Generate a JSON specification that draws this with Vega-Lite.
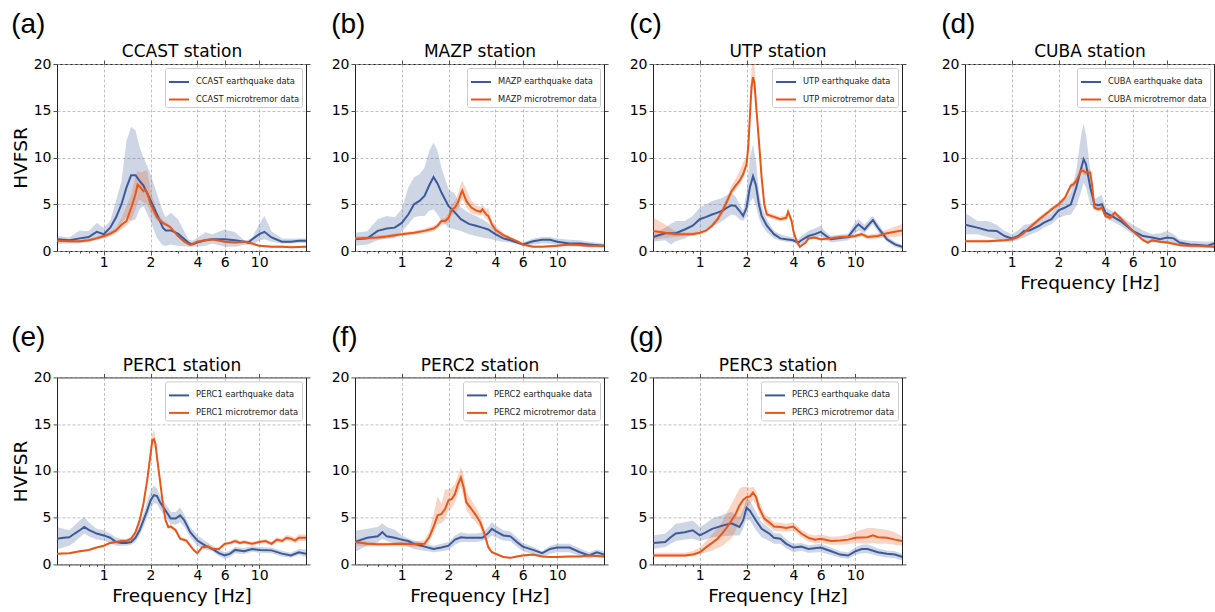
{
"$schema": "https://vega.github.io/schema/vega-lite/v6.json",
"background": "white",
"padding": {"left": 10, "top": 10, "right": 0, "bottom": 0},
"config": {
  "font": "DejaVu Sans",
  "view": {"stroke": "#222", "strokeWidth": 1},
  "axis": {"labelFont": "DejaVu Sans", "labelFontSize": 14, "labelColor": "#000", "tickColor": "#222", "tickSize": 4, "tickWidth": 0.8, "domain": false, "gridColor": "#b0b0b0", "gridDash": [3, 2], "gridWidth": 0.8, "titleFont": "DejaVu Sans", "titleFontSize": 18.5, "titleFontWeight": "normal", "titleColor": "#000", "labelPadding": 2, "labelFlush": false, "labelOverlap": false},
  "axisBottom": {"labelPadding": 0},
  "title": {"font": "Liberation Sans", "fontSize": 28, "fontWeight": "normal", "anchor": "start", "frame": "bounds", "color": "#000", "offset": 4},
  "legend": {"orient": "top-right", "offset": 4, "padding": 3, "strokeColor": "#cccccc", "fillColor": "#ffffff", "cornerRadius": 2, "labelFont": "DejaVu Sans", "labelFontSize": 8.3, "labelColor": "#222", "symbolType": "stroke", "symbolStrokeWidth": 2, "symbolSize": 400, "rowPadding": 2.5, "labelOffset": 6}
},
"datasets": {"d": [
{"p":"a","t":"e","f":0.5,"m":1.25,"lo":0.75,"hi":1.6},
{"p":"a","t":"e","f":0.6,"m":1.15,"lo":0.8,"hi":1.45},
{"p":"a","t":"e","f":0.7,"m":1.35,"lo":0.8,"hi":2.2},
{"p":"a","t":"e","f":0.8,"m":1.5,"lo":1.0,"hi":2.1},
{"p":"a","t":"e","f":0.9,"m":2.05,"lo":1.25,"hi":3.0},
{"p":"a","t":"e","f":1.0,"m":1.8,"lo":1.35,"hi":2.5},
{"p":"a","t":"e","f":1.1,"m":2.5,"lo":1.6,"hi":3.2},
{"p":"a","t":"e","f":1.2,"m":3.6,"lo":2.1,"hi":5.4},
{"p":"a","t":"e","f":1.3,"m":5.0,"lo":3.0,"hi":7.5},
{"p":"a","t":"e","f":1.4,"m":6.8,"lo":3.6,"hi":11.8},
{"p":"a","t":"e","f":1.5,"m":8.1,"lo":3.2,"hi":13.3},
{"p":"a","t":"e","f":1.6,"m":8.1,"lo":3.4,"hi":12.9},
{"p":"a","t":"e","f":1.7,"m":7.5,"lo":4.5,"hi":11.1},
{"p":"a","t":"e","f":1.8,"m":7.0,"lo":4.8,"hi":10.0},
{"p":"a","t":"e","f":2.0,"m":5.4,"lo":3.2,"hi":8.2},
{"p":"a","t":"e","f":2.2,"m":3.9,"lo":1.4,"hi":6.1},
{"p":"a","t":"e","f":2.4,"m":2.5,"lo":0.6,"hi":4.2},
{"p":"a","t":"e","f":2.5,"m":2.2,"lo":0.55,"hi":3.6},
{"p":"a","t":"e","f":2.7,"m":2.2,"lo":0.7,"hi":4.1},
{"p":"a","t":"e","f":3.0,"m":1.85,"lo":0.55,"hi":3.4},
{"p":"a","t":"e","f":3.5,"m":0.9,"lo":0.45,"hi":1.25},
{"p":"a","t":"e","f":3.7,"m":0.7,"lo":0.45,"hi":1.1},
{"p":"a","t":"e","f":4.0,"m":0.9,"lo":0.45,"hi":1.4},
{"p":"a","t":"e","f":4.5,"m":1.15,"lo":0.55,"hi":2.0},
{"p":"a","t":"e","f":5,"m":1.25,"lo":0.8,"hi":1.8},
{"p":"a","t":"e","f":6,"m":1.25,"lo":0.45,"hi":2.3},
{"p":"a","t":"e","f":7,"m":1.15,"lo":0.45,"hi":2.0},
{"p":"a","t":"e","f":8,"m":1.0,"lo":0.65,"hi":1.15},
{"p":"a","t":"e","f":8.5,"m":0.9,"lo":0.7,"hi":1.2},
{"p":"a","t":"e","f":9,"m":1.25,"lo":0.7,"hi":1.4},
{"p":"a","t":"e","f":10,"m":1.8,"lo":1.1,"hi":2.9},
{"p":"a","t":"e","f":10.8,"m":2.05,"lo":1.25,"hi":3.75},
{"p":"a","t":"e","f":12,"m":1.45,"lo":1.0,"hi":2.1},
{"p":"a","t":"e","f":14,"m":1.0,"lo":0.8,"hi":1.35},
{"p":"a","t":"e","f":16,"m":1.0,"lo":0.8,"hi":1.3},
{"p":"a","t":"e","f":18,"m":1.1,"lo":0.85,"hi":1.35},
{"p":"a","t":"e","f":20,"m":1.1,"lo":0.85,"hi":1.35},
{"p":"a","t":"m","f":0.5,"m":1.1,"lo":0.95,"hi":1.25},
{"p":"a","t":"m","f":0.6,"m":1.05,"lo":0.9,"hi":1.2},
{"p":"a","t":"m","f":0.7,"m":1.05,"lo":0.9,"hi":1.2},
{"p":"a","t":"m","f":0.8,"m":1.15,"lo":1.0,"hi":1.3},
{"p":"a","t":"m","f":0.9,"m":1.35,"lo":1.15,"hi":1.55},
{"p":"a","t":"m","f":1.0,"m":1.6,"lo":1.4,"hi":1.8},
{"p":"a","t":"m","f":1.1,"m":1.85,"lo":1.6,"hi":2.1},
{"p":"a","t":"m","f":1.2,"m":2.2,"lo":1.9,"hi":2.5},
{"p":"a","t":"m","f":1.3,"m":2.8,"lo":2.3,"hi":3.5},
{"p":"a","t":"m","f":1.4,"m":3.2,"lo":2.7,"hi":4.8},
{"p":"a","t":"m","f":1.5,"m":4.6,"lo":3.3,"hi":6.0},
{"p":"a","t":"m","f":1.6,"m":6.1,"lo":4.5,"hi":8.0},
{"p":"a","t":"m","f":1.65,"m":7.1,"lo":5.2,"hi":8.6},
{"p":"a","t":"m","f":1.7,"m":6.9,"lo":5.5,"hi":8.4},
{"p":"a","t":"m","f":1.8,"m":6.4,"lo":5.2,"hi":8.5},
{"p":"a","t":"m","f":1.85,"m":6.6,"lo":5.1,"hi":8.6},
{"p":"a","t":"m","f":1.9,"m":6.25,"lo":5.0,"hi":8.6},
{"p":"a","t":"m","f":2.0,"m":5.0,"lo":4.2,"hi":6.5},
{"p":"a","t":"m","f":2.2,"m":3.6,"lo":3.2,"hi":4.2},
{"p":"a","t":"m","f":2.4,"m":3.0,"lo":2.8,"hi":3.3},
{"p":"a","t":"m","f":2.6,"m":2.7,"lo":2.5,"hi":2.9},
{"p":"a","t":"m","f":2.7,"m":2.5,"lo":2.3,"hi":2.7},
{"p":"a","t":"m","f":3.0,"m":1.6,"lo":1.45,"hi":1.75},
{"p":"a","t":"m","f":3.3,"m":1.0,"lo":0.85,"hi":1.15},
{"p":"a","t":"m","f":3.6,"m":0.65,"lo":0.5,"hi":0.8},
{"p":"a","t":"m","f":4.0,"m":1.0,"lo":0.85,"hi":1.15},
{"p":"a","t":"m","f":4.5,"m":1.15,"lo":1.0,"hi":1.3},
{"p":"a","t":"m","f":5,"m":1.25,"lo":1.1,"hi":1.4},
{"p":"a","t":"m","f":6,"m":1.0,"lo":0.85,"hi":1.15},
{"p":"a","t":"m","f":7,"m":0.9,"lo":0.75,"hi":1.05},
{"p":"a","t":"m","f":8,"m":1.0,"lo":0.85,"hi":1.15},
{"p":"a","t":"m","f":9,"m":0.8,"lo":0.65,"hi":0.95},
{"p":"a","t":"m","f":10,"m":0.55,"lo":0.45,"hi":0.7},
{"p":"a","t":"m","f":12,"m":0.45,"lo":0.35,"hi":0.6},
{"p":"a","t":"m","f":14,"m":0.45,"lo":0.35,"hi":0.6},
{"p":"a","t":"m","f":16,"m":0.4,"lo":0.3,"hi":0.55},
{"p":"a","t":"m","f":20,"m":0.45,"lo":0.35,"hi":0.6},
{"p":"b","t":"e","f":0.5,"m":1.25,"lo":0.55,"hi":1.95},
{"p":"b","t":"e","f":0.6,"m":1.35,"lo":0.7,"hi":2.1},
{"p":"b","t":"e","f":0.7,"m":2.15,"lo":1.15,"hi":3.4},
{"p":"b","t":"e","f":0.8,"m":2.4,"lo":1.35,"hi":3.75},
{"p":"b","t":"e","f":0.9,"m":2.5,"lo":1.4,"hi":3.6},
{"p":"b","t":"e","f":1.0,"m":3.0,"lo":2.1,"hi":4.5},
{"p":"b","t":"e","f":1.1,"m":3.9,"lo":2.85,"hi":6.8},
{"p":"b","t":"e","f":1.2,"m":5.0,"lo":3.6,"hi":7.9},
{"p":"b","t":"e","f":1.3,"m":5.35,"lo":3.75,"hi":8.2},
{"p":"b","t":"e","f":1.4,"m":5.9,"lo":3.75,"hi":8.9},
{"p":"b","t":"e","f":1.5,"m":7.0,"lo":4.3,"hi":10.7},
{"p":"b","t":"e","f":1.6,"m":7.9,"lo":4.45,"hi":11.6},
{"p":"b","t":"e","f":1.7,"m":7.2,"lo":3.9,"hi":10.7},
{"p":"b","t":"e","f":1.8,"m":6.25,"lo":3.2,"hi":8.9},
{"p":"b","t":"e","f":2.0,"m":4.8,"lo":2.5,"hi":6.6},
{"p":"b","t":"e","f":2.2,"m":4.1,"lo":2.3,"hi":6.1},
{"p":"b","t":"e","f":2.4,"m":3.4,"lo":2.15,"hi":4.65},
{"p":"b","t":"e","f":2.7,"m":2.9,"lo":1.8,"hi":4.1},
{"p":"b","t":"e","f":3.0,"m":2.7,"lo":1.6,"hi":3.75},
{"p":"b","t":"e","f":3.3,"m":2.5,"lo":1.45,"hi":3.4},
{"p":"b","t":"e","f":3.6,"m":2.3,"lo":1.35,"hi":3.0},
{"p":"b","t":"e","f":4.0,"m":1.8,"lo":1.15,"hi":2.3},
{"p":"b","t":"e","f":4.5,"m":1.35,"lo":1.0,"hi":1.8},
{"p":"b","t":"e","f":5,"m":1.15,"lo":0.9,"hi":1.35},
{"p":"b","t":"e","f":6,"m":0.7,"lo":0.55,"hi":0.9},
{"p":"b","t":"e","f":7,"m":1.05,"lo":0.7,"hi":1.35},
{"p":"b","t":"e","f":8,"m":1.2,"lo":0.8,"hi":1.5},
{"p":"b","t":"e","f":9,"m":1.2,"lo":0.8,"hi":1.5},
{"p":"b","t":"e","f":10,"m":1.0,"lo":0.65,"hi":1.35},
{"p":"b","t":"e","f":12,"m":0.8,"lo":0.5,"hi":1.2},
{"p":"b","t":"e","f":14,"m":0.8,"lo":0.45,"hi":1.15},
{"p":"b","t":"e","f":16,"m":0.7,"lo":0.4,"hi":1.0},
{"p":"b","t":"e","f":20,"m":0.55,"lo":0.35,"hi":0.8},
{"p":"b","t":"m","f":0.5,"m":1.35,"lo":1.15,"hi":1.55},
{"p":"b","t":"m","f":0.7,"m":1.45,"lo":1.25,"hi":1.65},
{"p":"b","t":"m","f":0.8,"m":1.55,"lo":1.35,"hi":1.75},
{"p":"b","t":"m","f":1.0,"m":1.8,"lo":1.6,"hi":2.0},
{"p":"b","t":"m","f":1.2,"m":1.95,"lo":1.75,"hi":2.15},
{"p":"b","t":"m","f":1.4,"m":2.15,"lo":1.9,"hi":2.4},
{"p":"b","t":"m","f":1.6,"m":2.4,"lo":2.1,"hi":2.7},
{"p":"b","t":"m","f":1.7,"m":2.7,"lo":2.4,"hi":3.0},
{"p":"b","t":"m","f":1.8,"m":3.2,"lo":2.8,"hi":3.5},
{"p":"b","t":"m","f":1.9,"m":3.2,"lo":2.9,"hi":3.5},
{"p":"b","t":"m","f":2.0,"m":3.55,"lo":3.1,"hi":4.0},
{"p":"b","t":"m","f":2.1,"m":4.45,"lo":3.9,"hi":5.0},
{"p":"b","t":"m","f":2.2,"m":4.65,"lo":4.0,"hi":5.3},
{"p":"b","t":"m","f":2.3,"m":5.2,"lo":4.5,"hi":6.2},
{"p":"b","t":"m","f":2.4,"m":6.1,"lo":5.3,"hi":7.2},
{"p":"b","t":"m","f":2.45,"m":6.45,"lo":5.5,"hi":7.5},
{"p":"b","t":"m","f":2.6,"m":5.35,"lo":4.7,"hi":6.6},
{"p":"b","t":"m","f":2.8,"m":4.65,"lo":4.0,"hi":5.4},
{"p":"b","t":"m","f":3.0,"m":4.35,"lo":3.9,"hi":4.9},
{"p":"b","t":"m","f":3.2,"m":4.2,"lo":3.8,"hi":4.7},
{"p":"b","t":"m","f":3.3,"m":4.45,"lo":3.9,"hi":4.9},
{"p":"b","t":"m","f":3.5,"m":3.9,"lo":3.4,"hi":4.5},
{"p":"b","t":"m","f":3.6,"m":3.75,"lo":3.3,"hi":4.6},
{"p":"b","t":"m","f":3.8,"m":2.85,"lo":2.5,"hi":3.3},
{"p":"b","t":"m","f":4.0,"m":2.3,"lo":2.0,"hi":2.7},
{"p":"b","t":"m","f":4.5,"m":1.7,"lo":1.5,"hi":1.95},
{"p":"b","t":"m","f":5,"m":1.35,"lo":1.15,"hi":1.55},
{"p":"b","t":"m","f":5.5,"m":1.05,"lo":0.9,"hi":1.2},
{"p":"b","t":"m","f":6,"m":0.7,"lo":0.55,"hi":0.85},
{"p":"b","t":"m","f":7,"m":0.45,"lo":0.35,"hi":0.6},
{"p":"b","t":"m","f":8,"m":0.45,"lo":0.35,"hi":0.6},
{"p":"b","t":"m","f":10,"m":0.55,"lo":0.4,"hi":0.7},
{"p":"b","t":"m","f":12,"m":0.7,"lo":0.55,"hi":0.85},
{"p":"b","t":"m","f":14,"m":0.65,"lo":0.5,"hi":0.8},
{"p":"b","t":"m","f":16,"m":0.55,"lo":0.4,"hi":0.7},
{"p":"b","t":"m","f":20,"m":0.55,"lo":0.4,"hi":0.7},
{"p":"c","t":"e","f":0.5,"m":1.5,"lo":1.0,"hi":1.85},
{"p":"c","t":"e","f":0.6,"m":1.9,"lo":1.15,"hi":2.5},
{"p":"c","t":"e","f":0.65,"m":1.9,"lo":0.7,"hi":2.9},
{"p":"c","t":"e","f":0.7,"m":1.9,"lo":1.05,"hi":3.2},
{"p":"c","t":"e","f":0.8,"m":2.3,"lo":1.35,"hi":3.2},
{"p":"c","t":"e","f":0.9,"m":2.7,"lo":1.8,"hi":3.75},
{"p":"c","t":"e","f":1.0,"m":3.4,"lo":2.15,"hi":4.65},
{"p":"c","t":"e","f":1.1,"m":3.65,"lo":2.4,"hi":5.0},
{"p":"c","t":"e","f":1.2,"m":3.9,"lo":2.7,"hi":5.35},
{"p":"c","t":"e","f":1.3,"m":4.1,"lo":2.9,"hi":5.5},
{"p":"c","t":"e","f":1.4,"m":4.3,"lo":3.2,"hi":5.7},
{"p":"c","t":"e","f":1.5,"m":4.65,"lo":3.6,"hi":6.0},
{"p":"c","t":"e","f":1.6,"m":4.9,"lo":3.9,"hi":6.25},
{"p":"c","t":"e","f":1.7,"m":4.8,"lo":3.8,"hi":5.8},
{"p":"c","t":"e","f":1.8,"m":4.3,"lo":3.4,"hi":5.0},
{"p":"c","t":"e","f":1.9,"m":3.75,"lo":3.2,"hi":4.3},
{"p":"c","t":"e","f":2.0,"m":4.65,"lo":3.75,"hi":6.25},
{"p":"c","t":"e","f":2.1,"m":6.8,"lo":5.2,"hi":10.0},
{"p":"c","t":"e","f":2.2,"m":8.0,"lo":5.7,"hi":11.4},
{"p":"c","t":"e","f":2.3,"m":7.0,"lo":4.8,"hi":9.6},
{"p":"c","t":"e","f":2.4,"m":5.0,"lo":3.55,"hi":6.4},
{"p":"c","t":"e","f":2.5,"m":3.75,"lo":2.8,"hi":4.8},
{"p":"c","t":"e","f":2.7,"m":2.7,"lo":2.0,"hi":3.4},
{"p":"c","t":"e","f":3.0,"m":1.8,"lo":1.35,"hi":2.15},
{"p":"c","t":"e","f":3.3,"m":1.35,"lo":1.1,"hi":1.8},
{"p":"c","t":"e","f":3.6,"m":1.25,"lo":1.0,"hi":1.6},
{"p":"c","t":"e","f":4.0,"m":1.15,"lo":0.9,"hi":1.45},
{"p":"c","t":"e","f":4.3,"m":0.9,"lo":0.55,"hi":1.25},
{"p":"c","t":"e","f":4.5,"m":1.15,"lo":0.75,"hi":1.6},
{"p":"c","t":"e","f":5,"m":1.6,"lo":1.15,"hi":2.15},
{"p":"c","t":"e","f":5.5,"m":1.8,"lo":1.4,"hi":2.4},
{"p":"c","t":"e","f":6,"m":2.05,"lo":1.6,"hi":2.7},
{"p":"c","t":"e","f":6.5,"m":1.6,"lo":1.2,"hi":2.0},
{"p":"c","t":"e","f":7,"m":1.25,"lo":0.9,"hi":1.6},
{"p":"c","t":"e","f":8,"m":1.4,"lo":1.05,"hi":1.75},
{"p":"c","t":"e","f":9,"m":1.5,"lo":1.15,"hi":1.85},
{"p":"c","t":"e","f":10,"m":2.5,"lo":1.9,"hi":3.1},
{"p":"c","t":"e","f":10.5,"m":2.85,"lo":2.2,"hi":3.4},
{"p":"c","t":"e","f":11.5,"m":2.3,"lo":1.95,"hi":2.8},
{"p":"c","t":"e","f":12.5,"m":3.0,"lo":2.6,"hi":3.5},
{"p":"c","t":"e","f":13,"m":3.3,"lo":2.85,"hi":3.75},
{"p":"c","t":"e","f":14,"m":2.5,"lo":2.05,"hi":3.0},
{"p":"c","t":"e","f":16,"m":1.25,"lo":1.0,"hi":1.6},
{"p":"c","t":"e","f":18,"m":0.7,"lo":0.45,"hi":1.0},
{"p":"c","t":"e","f":20,"m":0.45,"lo":0.2,"hi":0.65},
{"p":"c","t":"m","f":0.5,"m":2.15,"lo":1.2,"hi":3.6},
{"p":"c","t":"m","f":0.6,"m":1.95,"lo":1.4,"hi":2.8},
{"p":"c","t":"m","f":0.7,"m":1.8,"lo":1.5,"hi":2.1},
{"p":"c","t":"m","f":0.8,"m":1.8,"lo":1.6,"hi":2.0},
{"p":"c","t":"m","f":0.9,"m":1.8,"lo":1.6,"hi":2.0},
{"p":"c","t":"m","f":1.0,"m":1.95,"lo":1.75,"hi":2.15},
{"p":"c","t":"m","f":1.1,"m":2.2,"lo":2.0,"hi":2.4},
{"p":"c","t":"m","f":1.2,"m":2.7,"lo":2.5,"hi":2.95},
{"p":"c","t":"m","f":1.3,"m":3.4,"lo":3.1,"hi":3.7},
{"p":"c","t":"m","f":1.4,"m":4.3,"lo":3.9,"hi":4.7},
{"p":"c","t":"m","f":1.5,"m":5.35,"lo":4.9,"hi":5.8},
{"p":"c","t":"m","f":1.6,"m":6.4,"lo":6.0,"hi":7.0},
{"p":"c","t":"m","f":1.7,"m":7.0,"lo":6.5,"hi":7.7},
{"p":"c","t":"m","f":1.8,"m":7.5,"lo":7.0,"hi":8.5},
{"p":"c","t":"m","f":1.9,"m":8.2,"lo":7.7,"hi":9.5},
{"p":"c","t":"m","f":2.0,"m":9.3,"lo":8.8,"hi":10.0},
{"p":"c","t":"m","f":2.05,"m":11.1,"lo":10.3,"hi":12.0},
{"p":"c","t":"m","f":2.1,"m":14.3,"lo":13.5,"hi":15.5},
{"p":"c","t":"m","f":2.15,"m":17.5,"lo":16.5,"hi":19.5},
{"p":"c","t":"m","f":2.2,"m":18.6,"lo":17.5,"hi":21},
{"p":"c","t":"m","f":2.25,"m":17.9,"lo":16.8,"hi":20},
{"p":"c","t":"m","f":2.3,"m":15.7,"lo":14.8,"hi":17},
{"p":"c","t":"m","f":2.4,"m":11.8,"lo":11.0,"hi":12.6},
{"p":"c","t":"m","f":2.5,"m":7.85,"lo":7.3,"hi":8.4},
{"p":"c","t":"m","f":2.6,"m":5.0,"lo":4.6,"hi":5.4},
{"p":"c","t":"m","f":2.7,"m":3.9,"lo":3.6,"hi":4.2},
{"p":"c","t":"m","f":3.0,"m":3.65,"lo":3.4,"hi":3.9},
{"p":"c","t":"m","f":3.3,"m":3.4,"lo":3.15,"hi":3.65},
{"p":"c","t":"m","f":3.6,"m":3.55,"lo":3.3,"hi":3.9},
{"p":"c","t":"m","f":3.7,"m":4.2,"lo":3.8,"hi":4.6},
{"p":"c","t":"m","f":3.9,"m":3.2,"lo":2.9,"hi":3.5},
{"p":"c","t":"m","f":4.0,"m":2.15,"lo":1.9,"hi":2.4},
{"p":"c","t":"m","f":4.2,"m":1.05,"lo":0.9,"hi":1.25},
{"p":"c","t":"m","f":4.4,"m":0.45,"lo":0.3,"hi":0.6},
{"p":"c","t":"m","f":4.8,"m":0.9,"lo":0.75,"hi":1.05},
{"p":"c","t":"m","f":5,"m":1.35,"lo":1.2,"hi":1.5},
{"p":"c","t":"m","f":5.5,"m":1.45,"lo":1.3,"hi":1.6},
{"p":"c","t":"m","f":6,"m":1.25,"lo":1.1,"hi":1.4},
{"p":"c","t":"m","f":7,"m":1.35,"lo":1.15,"hi":1.55},
{"p":"c","t":"m","f":8,"m":1.5,"lo":1.3,"hi":1.7},
{"p":"c","t":"m","f":9,"m":1.5,"lo":1.3,"hi":1.7},
{"p":"c","t":"m","f":10,"m":1.6,"lo":1.4,"hi":1.8},
{"p":"c","t":"m","f":11,"m":1.8,"lo":1.55,"hi":2.05},
{"p":"c","t":"m","f":12,"m":1.5,"lo":1.25,"hi":1.75},
{"p":"c","t":"m","f":14,"m":1.6,"lo":1.35,"hi":1.9},
{"p":"c","t":"m","f":16,"m":1.9,"lo":1.5,"hi":2.3},
{"p":"c","t":"m","f":18,"m":2.05,"lo":1.5,"hi":2.6},
{"p":"c","t":"m","f":20,"m":2.2,"lo":1.6,"hi":2.9},
{"p":"d","t":"e","f":0.5,"m":2.8,"lo":1.8,"hi":4.1},
{"p":"d","t":"e","f":0.6,"m":2.5,"lo":1.8,"hi":3.2},
{"p":"d","t":"e","f":0.7,"m":2.2,"lo":1.5,"hi":3.2},
{"p":"d","t":"e","f":0.8,"m":2.15,"lo":1.25,"hi":2.8},
{"p":"d","t":"e","f":0.9,"m":1.6,"lo":1.05,"hi":2.15},
{"p":"d","t":"e","f":1.0,"m":1.35,"lo":1.0,"hi":1.8},
{"p":"d","t":"e","f":1.1,"m":1.6,"lo":1.2,"hi":2.2},
{"p":"d","t":"e","f":1.2,"m":2.15,"lo":1.45,"hi":2.8},
{"p":"d","t":"e","f":1.3,"m":2.2,"lo":1.7,"hi":2.9},
{"p":"d","t":"e","f":1.5,"m":2.7,"lo":2.15,"hi":3.4},
{"p":"d","t":"e","f":1.6,"m":3.0,"lo":2.5,"hi":3.6},
{"p":"d","t":"e","f":1.8,"m":3.4,"lo":2.85,"hi":4.0},
{"p":"d","t":"e","f":2.0,"m":4.35,"lo":3.55,"hi":5.0},
{"p":"d","t":"e","f":2.2,"m":4.65,"lo":3.8,"hi":5.5},
{"p":"d","t":"e","f":2.4,"m":5.0,"lo":3.9,"hi":6.25},
{"p":"d","t":"e","f":2.6,"m":6.8,"lo":4.8,"hi":8.6},
{"p":"d","t":"e","f":2.8,"m":8.9,"lo":6.4,"hi":12.5},
{"p":"d","t":"e","f":2.9,"m":9.8,"lo":7.3,"hi":13.6},
{"p":"d","t":"e","f":3.0,"m":9.3,"lo":6.8,"hi":12.5},
{"p":"d","t":"e","f":3.2,"m":6.8,"lo":5.0,"hi":8.6},
{"p":"d","t":"e","f":3.4,"m":5.0,"lo":4.45,"hi":5.5},
{"p":"d","t":"e","f":3.6,"m":4.9,"lo":4.35,"hi":5.8},
{"p":"d","t":"e","f":3.8,"m":5.0,"lo":4.3,"hi":6.0},
{"p":"d","t":"e","f":4.0,"m":4.1,"lo":3.55,"hi":4.65},
{"p":"d","t":"e","f":4.5,"m":3.65,"lo":3.1,"hi":4.2},
{"p":"d","t":"e","f":5,"m":3.2,"lo":2.7,"hi":3.75},
{"p":"d","t":"e","f":6,"m":2.15,"lo":1.8,"hi":2.8},
{"p":"d","t":"e","f":7,"m":1.6,"lo":1.2,"hi":2.2},
{"p":"d","t":"e","f":8,"m":1.45,"lo":0.9,"hi":1.8},
{"p":"d","t":"e","f":9,"m":1.25,"lo":0.9,"hi":1.9},
{"p":"d","t":"e","f":10,"m":1.45,"lo":0.9,"hi":2.15},
{"p":"d","t":"e","f":11,"m":1.35,"lo":0.8,"hi":1.8},
{"p":"d","t":"e","f":12,"m":0.9,"lo":0.45,"hi":1.25},
{"p":"d","t":"e","f":14,"m":0.7,"lo":0.4,"hi":1.1},
{"p":"d","t":"e","f":16,"m":0.65,"lo":0.35,"hi":1.05},
{"p":"d","t":"e","f":18,"m":0.55,"lo":0.35,"hi":1.0},
{"p":"d","t":"e","f":20,"m":0.8,"lo":0.35,"hi":1.05},
{"p":"d","t":"m","f":0.5,"m":1.05,"lo":0.9,"hi":1.2},
{"p":"d","t":"m","f":0.7,"m":1.05,"lo":0.9,"hi":1.2},
{"p":"d","t":"m","f":0.9,"m":1.15,"lo":1.0,"hi":1.3},
{"p":"d","t":"m","f":1.0,"m":1.25,"lo":1.1,"hi":1.4},
{"p":"d","t":"m","f":1.1,"m":1.5,"lo":1.3,"hi":1.7},
{"p":"d","t":"m","f":1.2,"m":1.95,"lo":1.75,"hi":2.15},
{"p":"d","t":"m","f":1.3,"m":2.5,"lo":2.3,"hi":2.7},
{"p":"d","t":"m","f":1.5,"m":3.4,"lo":3.15,"hi":3.65},
{"p":"d","t":"m","f":1.7,"m":4.1,"lo":3.85,"hi":4.35},
{"p":"d","t":"m","f":1.8,"m":4.45,"lo":4.2,"hi":4.7},
{"p":"d","t":"m","f":2.0,"m":5.0,"lo":4.75,"hi":5.25},
{"p":"d","t":"m","f":2.2,"m":5.7,"lo":5.4,"hi":6.0},
{"p":"d","t":"m","f":2.4,"m":7.0,"lo":6.7,"hi":7.3},
{"p":"d","t":"m","f":2.5,"m":7.15,"lo":6.85,"hi":7.45},
{"p":"d","t":"m","f":2.6,"m":7.5,"lo":7.2,"hi":7.8},
{"p":"d","t":"m","f":2.8,"m":8.65,"lo":8.3,"hi":9.0},
{"p":"d","t":"m","f":3.0,"m":8.4,"lo":8.05,"hi":8.75},
{"p":"d","t":"m","f":3.2,"m":8.4,"lo":8.05,"hi":8.75},
{"p":"d","t":"m","f":3.3,"m":6.8,"lo":6.5,"hi":7.1},
{"p":"d","t":"m","f":3.4,"m":4.65,"lo":4.4,"hi":4.9},
{"p":"d","t":"m","f":3.6,"m":4.45,"lo":4.2,"hi":4.7},
{"p":"d","t":"m","f":3.8,"m":4.65,"lo":4.4,"hi":4.9},
{"p":"d","t":"m","f":4.0,"m":3.75,"lo":3.5,"hi":4.0},
{"p":"d","t":"m","f":4.3,"m":3.55,"lo":3.3,"hi":3.8},
{"p":"d","t":"m","f":4.6,"m":4.1,"lo":3.8,"hi":4.35},
{"p":"d","t":"m","f":5,"m":3.5,"lo":3.25,"hi":3.75},
{"p":"d","t":"m","f":6,"m":2.15,"lo":1.95,"hi":2.35},
{"p":"d","t":"m","f":7,"m":1.15,"lo":1.0,"hi":1.3},
{"p":"d","t":"m","f":7.5,"m":0.9,"lo":0.75,"hi":1.05},
{"p":"d","t":"m","f":8,"m":1.15,"lo":1.0,"hi":1.3},
{"p":"d","t":"m","f":9,"m":1.0,"lo":0.85,"hi":1.15},
{"p":"d","t":"m","f":10,"m":0.9,"lo":0.75,"hi":1.05},
{"p":"d","t":"m","f":12,"m":0.65,"lo":0.5,"hi":0.8},
{"p":"d","t":"m","f":14,"m":0.55,"lo":0.4,"hi":0.7},
{"p":"d","t":"m","f":16,"m":0.55,"lo":0.4,"hi":0.7},
{"p":"d","t":"m","f":20,"m":0.45,"lo":0.3,"hi":0.6},
{"p":"e","t":"e","f":0.5,"m":2.75,"lo":1.65,"hi":4.0},
{"p":"e","t":"e","f":0.55,"m":2.85,"lo":1.8,"hi":3.8},
{"p":"e","t":"e","f":0.6,"m":2.9,"lo":2.0,"hi":3.65},
{"p":"e","t":"e","f":0.65,"m":3.3,"lo":2.4,"hi":4.2},
{"p":"e","t":"e","f":0.7,"m":3.65,"lo":2.9,"hi":4.7},
{"p":"e","t":"e","f":0.75,"m":4.0,"lo":3.3,"hi":5.05},
{"p":"e","t":"e","f":0.8,"m":3.7,"lo":3.0,"hi":4.5},
{"p":"e","t":"e","f":0.9,"m":3.3,"lo":2.65,"hi":3.8},
{"p":"e","t":"e","f":1.0,"m":3.1,"lo":2.55,"hi":3.65},
{"p":"e","t":"e","f":1.1,"m":2.85,"lo":2.3,"hi":3.3},
{"p":"e","t":"e","f":1.2,"m":2.4,"lo":2.0,"hi":2.85},
{"p":"e","t":"e","f":1.3,"m":2.3,"lo":2.0,"hi":2.75},
{"p":"e","t":"e","f":1.4,"m":2.3,"lo":2.0,"hi":2.75},
{"p":"e","t":"e","f":1.5,"m":2.4,"lo":2.1,"hi":2.9},
{"p":"e","t":"e","f":1.6,"m":2.85,"lo":2.4,"hi":3.35},
{"p":"e","t":"e","f":1.7,"m":3.65,"lo":3.1,"hi":4.3},
{"p":"e","t":"e","f":1.8,"m":4.7,"lo":4.0,"hi":5.4},
{"p":"e","t":"e","f":1.9,"m":5.75,"lo":5.0,"hi":6.7},
{"p":"e","t":"e","f":2.0,"m":6.85,"lo":5.95,"hi":7.9},
{"p":"e","t":"e","f":2.1,"m":7.4,"lo":6.55,"hi":8.45},
{"p":"e","t":"e","f":2.2,"m":7.3,"lo":6.5,"hi":8.1},
{"p":"e","t":"e","f":2.3,"m":6.65,"lo":5.9,"hi":7.4},
{"p":"e","t":"e","f":2.5,"m":5.75,"lo":5.05,"hi":6.5},
{"p":"e","t":"e","f":2.7,"m":4.9,"lo":4.3,"hi":5.6},
{"p":"e","t":"e","f":2.9,"m":4.9,"lo":4.25,"hi":5.6},
{"p":"e","t":"e","f":3.1,"m":5.25,"lo":4.5,"hi":6.1},
{"p":"e","t":"e","f":3.3,"m":4.7,"lo":4.0,"hi":5.3},
{"p":"e","t":"e","f":3.6,"m":3.45,"lo":2.9,"hi":4.0},
{"p":"e","t":"e","f":4.0,"m":2.55,"lo":2.0,"hi":3.1},
{"p":"e","t":"e","f":4.5,"m":2.0,"lo":1.6,"hi":2.5},
{"p":"e","t":"e","f":5,"m":1.65,"lo":1.4,"hi":2.0},
{"p":"e","t":"e","f":5.5,"m":1.2,"lo":0.9,"hi":1.6},
{"p":"e","t":"e","f":6,"m":0.95,"lo":0.6,"hi":1.3},
{"p":"e","t":"e","f":6.5,"m":1.15,"lo":0.8,"hi":1.5},
{"p":"e","t":"e","f":7,"m":1.55,"lo":1.2,"hi":1.9},
{"p":"e","t":"e","f":8,"m":1.4,"lo":1.1,"hi":1.75},
{"p":"e","t":"e","f":9,"m":1.65,"lo":1.35,"hi":1.95},
{"p":"e","t":"e","f":10,"m":1.55,"lo":1.25,"hi":1.85},
{"p":"e","t":"e","f":12,"m":1.5,"lo":1.2,"hi":1.8},
{"p":"e","t":"e","f":14,"m":1.15,"lo":0.85,"hi":1.45},
{"p":"e","t":"e","f":16,"m":0.95,"lo":0.7,"hi":1.25},
{"p":"e","t":"e","f":18,"m":1.3,"lo":1.0,"hi":1.65},
{"p":"e","t":"e","f":20,"m":1.15,"lo":0.8,"hi":1.6},
{"p":"e","t":"m","f":0.5,"m":1.15,"lo":1.05,"hi":1.25},
{"p":"e","t":"m","f":0.6,"m":1.2,"lo":1.1,"hi":1.3},
{"p":"e","t":"m","f":0.7,"m":1.4,"lo":1.3,"hi":1.5},
{"p":"e","t":"m","f":0.8,"m":1.55,"lo":1.45,"hi":1.65},
{"p":"e","t":"m","f":0.9,"m":1.8,"lo":1.7,"hi":1.9},
{"p":"e","t":"m","f":1.0,"m":2.0,"lo":1.9,"hi":2.1},
{"p":"e","t":"m","f":1.1,"m":2.3,"lo":2.15,"hi":2.45},
{"p":"e","t":"m","f":1.2,"m":2.4,"lo":2.25,"hi":2.55},
{"p":"e","t":"m","f":1.3,"m":2.5,"lo":2.35,"hi":2.65},
{"p":"e","t":"m","f":1.4,"m":2.5,"lo":2.35,"hi":2.65},
{"p":"e","t":"m","f":1.5,"m":2.75,"lo":2.6,"hi":2.9},
{"p":"e","t":"m","f":1.6,"m":3.45,"lo":3.25,"hi":3.65},
{"p":"e","t":"m","f":1.7,"m":4.7,"lo":4.45,"hi":4.95},
{"p":"e","t":"m","f":1.8,"m":6.5,"lo":6.2,"hi":6.8},
{"p":"e","t":"m","f":1.9,"m":8.95,"lo":8.6,"hi":9.3},
{"p":"e","t":"m","f":2.0,"m":11.8,"lo":11.2,"hi":12.5},
{"p":"e","t":"m","f":2.05,"m":13.25,"lo":12.6,"hi":14.0},
{"p":"e","t":"m","f":2.1,"m":13.4,"lo":12.8,"hi":14.4},
{"p":"e","t":"m","f":2.15,"m":12.9,"lo":12.3,"hi":13.6},
{"p":"e","t":"m","f":2.2,"m":11.45,"lo":10.9,"hi":12.0},
{"p":"e","t":"m","f":2.3,"m":8.95,"lo":8.6,"hi":9.3},
{"p":"e","t":"m","f":2.4,"m":6.5,"lo":6.2,"hi":6.8},
{"p":"e","t":"m","f":2.5,"m":4.7,"lo":4.5,"hi":4.9},
{"p":"e","t":"m","f":2.6,"m":4.0,"lo":3.8,"hi":4.2},
{"p":"e","t":"m","f":2.7,"m":4.05,"lo":3.85,"hi":4.25},
{"p":"e","t":"m","f":2.9,"m":3.65,"lo":3.45,"hi":3.85},
{"p":"e","t":"m","f":3.1,"m":2.75,"lo":2.55,"hi":2.95},
{"p":"e","t":"m","f":3.4,"m":2.55,"lo":2.35,"hi":2.75},
{"p":"e","t":"m","f":3.6,"m":2.0,"lo":1.85,"hi":2.15},
{"p":"e","t":"m","f":3.8,"m":1.5,"lo":1.35,"hi":1.65},
{"p":"e","t":"m","f":4.0,"m":1.2,"lo":1.05,"hi":1.35},
{"p":"e","t":"m","f":4.3,"m":1.85,"lo":1.7,"hi":2.0},
{"p":"e","t":"m","f":4.7,"m":1.9,"lo":1.75,"hi":2.05},
{"p":"e","t":"m","f":5,"m":1.65,"lo":1.5,"hi":1.8},
{"p":"e","t":"m","f":5.5,"m":1.65,"lo":1.5,"hi":1.8},
{"p":"e","t":"m","f":6,"m":2.2,"lo":2.0,"hi":2.4},
{"p":"e","t":"m","f":6.5,"m":2.3,"lo":2.1,"hi":2.5},
{"p":"e","t":"m","f":7,"m":2.5,"lo":2.25,"hi":2.75},
{"p":"e","t":"m","f":7.5,"m":2.3,"lo":2.1,"hi":2.5},
{"p":"e","t":"m","f":8,"m":2.4,"lo":2.2,"hi":2.6},
{"p":"e","t":"m","f":9,"m":2.2,"lo":2.0,"hi":2.4},
{"p":"e","t":"m","f":10,"m":2.4,"lo":2.2,"hi":2.6},
{"p":"e","t":"m","f":11,"m":2.5,"lo":2.3,"hi":2.7},
{"p":"e","t":"m","f":12,"m":2.2,"lo":2.0,"hi":2.45},
{"p":"e","t":"m","f":13,"m":2.65,"lo":2.4,"hi":2.9},
{"p":"e","t":"m","f":14,"m":2.5,"lo":2.25,"hi":2.75},
{"p":"e","t":"m","f":15,"m":2.85,"lo":2.55,"hi":3.15},
{"p":"e","t":"m","f":16,"m":2.75,"lo":2.45,"hi":3.05},
{"p":"e","t":"m","f":17,"m":2.55,"lo":2.25,"hi":2.85},
{"p":"e","t":"m","f":18,"m":2.85,"lo":2.5,"hi":3.2},
{"p":"e","t":"m","f":20,"m":2.85,"lo":2.5,"hi":3.2},
{"p":"f","t":"e","f":0.5,"m":2.4,"lo":1.3,"hi":3.6},
{"p":"f","t":"e","f":0.55,"m":2.65,"lo":1.7,"hi":3.7},
{"p":"f","t":"e","f":0.6,"m":2.85,"lo":2.0,"hi":3.8},
{"p":"f","t":"e","f":0.7,"m":3.0,"lo":2.4,"hi":4.0},
{"p":"f","t":"e","f":0.75,"m":3.45,"lo":2.75,"hi":4.4},
{"p":"f","t":"e","f":0.8,"m":3.0,"lo":2.5,"hi":4.0},
{"p":"f","t":"e","f":0.9,"m":2.85,"lo":2.3,"hi":3.7},
{"p":"f","t":"e","f":1.0,"m":2.65,"lo":2.15,"hi":3.1},
{"p":"f","t":"e","f":1.1,"m":2.5,"lo":1.9,"hi":2.8},
{"p":"f","t":"e","f":1.2,"m":2.2,"lo":1.65,"hi":2.55},
{"p":"f","t":"e","f":1.4,"m":1.9,"lo":1.45,"hi":2.25},
{"p":"f","t":"e","f":1.6,"m":1.65,"lo":1.3,"hi":2.0},
{"p":"f","t":"e","f":1.8,"m":1.8,"lo":1.4,"hi":2.2},
{"p":"f","t":"e","f":2.0,"m":2.0,"lo":1.55,"hi":2.4},
{"p":"f","t":"e","f":2.2,"m":2.65,"lo":2.1,"hi":3.1},
{"p":"f","t":"e","f":2.4,"m":2.9,"lo":2.4,"hi":3.45},
{"p":"f","t":"e","f":2.6,"m":2.85,"lo":2.4,"hi":3.3},
{"p":"f","t":"e","f":3.0,"m":2.85,"lo":2.4,"hi":3.3},
{"p":"f","t":"e","f":3.3,"m":2.85,"lo":2.5,"hi":3.4},
{"p":"f","t":"e","f":3.6,"m":3.35,"lo":2.8,"hi":4.0},
{"p":"f","t":"e","f":3.8,"m":3.8,"lo":3.1,"hi":4.5},
{"p":"f","t":"e","f":4.0,"m":3.55,"lo":2.9,"hi":4.2},
{"p":"f","t":"e","f":4.5,"m":3.1,"lo":2.55,"hi":3.65},
{"p":"f","t":"e","f":5,"m":3.0,"lo":2.5,"hi":3.5},
{"p":"f","t":"e","f":5.5,"m":2.4,"lo":1.9,"hi":2.9},
{"p":"f","t":"e","f":6,"m":1.9,"lo":1.4,"hi":2.3},
{"p":"f","t":"e","f":7,"m":1.55,"lo":1.1,"hi":1.9},
{"p":"f","t":"e","f":8,"m":1.2,"lo":0.85,"hi":1.4},
{"p":"f","t":"e","f":9,"m":1.65,"lo":1.15,"hi":2.0},
{"p":"f","t":"e","f":10,"m":1.8,"lo":1.3,"hi":2.2},
{"p":"f","t":"e","f":12,"m":1.8,"lo":1.3,"hi":2.2},
{"p":"f","t":"e","f":14,"m":1.3,"lo":0.9,"hi":1.7},
{"p":"f","t":"e","f":16,"m":0.95,"lo":0.6,"hi":1.3},
{"p":"f","t":"e","f":18,"m":1.3,"lo":0.9,"hi":1.6},
{"p":"f","t":"e","f":20,"m":1.05,"lo":0.7,"hi":1.4},
{"p":"f","t":"m","f":0.5,"m":2.4,"lo":2.0,"hi":2.8},
{"p":"f","t":"m","f":0.6,"m":2.2,"lo":1.95,"hi":2.45},
{"p":"f","t":"m","f":0.7,"m":2.15,"lo":1.95,"hi":2.35},
{"p":"f","t":"m","f":0.8,"m":2.15,"lo":1.95,"hi":2.35},
{"p":"f","t":"m","f":1.0,"m":2.2,"lo":1.95,"hi":2.45},
{"p":"f","t":"m","f":1.2,"m":2.15,"lo":1.9,"hi":2.45},
{"p":"f","t":"m","f":1.4,"m":2.2,"lo":1.9,"hi":2.6},
{"p":"f","t":"m","f":1.5,"m":2.9,"lo":2.4,"hi":3.5},
{"p":"f","t":"m","f":1.6,"m":4.0,"lo":3.3,"hi":5.3},
{"p":"f","t":"m","f":1.7,"m":5.25,"lo":4.3,"hi":7.3},
{"p":"f","t":"m","f":1.8,"m":5.4,"lo":4.4,"hi":6.5},
{"p":"f","t":"m","f":1.9,"m":5.95,"lo":4.8,"hi":8.0},
{"p":"f","t":"m","f":2.0,"m":6.85,"lo":5.8,"hi":8.0},
{"p":"f","t":"m","f":2.1,"m":7.0,"lo":6.0,"hi":8.2},
{"p":"f","t":"m","f":2.2,"m":7.55,"lo":6.6,"hi":8.6},
{"p":"f","t":"m","f":2.3,"m":8.6,"lo":7.6,"hi":9.6},
{"p":"f","t":"m","f":2.4,"m":9.3,"lo":8.3,"hi":10.4},
{"p":"f","t":"m","f":2.5,"m":8.25,"lo":7.2,"hi":9.6},
{"p":"f","t":"m","f":2.6,"m":6.65,"lo":5.8,"hi":7.8},
{"p":"f","t":"m","f":2.8,"m":5.95,"lo":5.1,"hi":6.9},
{"p":"f","t":"m","f":3.0,"m":5.25,"lo":4.5,"hi":6.1},
{"p":"f","t":"m","f":3.2,"m":4.5,"lo":3.9,"hi":5.3},
{"p":"f","t":"m","f":3.4,"m":3.3,"lo":2.8,"hi":3.8},
{"p":"f","t":"m","f":3.6,"m":1.85,"lo":1.6,"hi":2.1},
{"p":"f","t":"m","f":3.8,"m":1.3,"lo":1.15,"hi":1.45},
{"p":"f","t":"m","f":4.0,"m":1.15,"lo":1.0,"hi":1.3},
{"p":"f","t":"m","f":4.5,"m":0.8,"lo":0.7,"hi":0.9},
{"p":"f","t":"m","f":5,"m":0.7,"lo":0.6,"hi":0.8},
{"p":"f","t":"m","f":5.5,"m":0.85,"lo":0.75,"hi":0.95},
{"p":"f","t":"m","f":6,"m":0.95,"lo":0.85,"hi":1.05},
{"p":"f","t":"m","f":7,"m":1.05,"lo":0.95,"hi":1.15},
{"p":"f","t":"m","f":8,"m":0.85,"lo":0.75,"hi":0.95},
{"p":"f","t":"m","f":9,"m":0.8,"lo":0.7,"hi":0.9},
{"p":"f","t":"m","f":10,"m":0.8,"lo":0.7,"hi":0.9},
{"p":"f","t":"m","f":12,"m":0.85,"lo":0.75,"hi":0.95},
{"p":"f","t":"m","f":14,"m":0.85,"lo":0.75,"hi":0.95},
{"p":"f","t":"m","f":16,"m":0.95,"lo":0.85,"hi":1.05},
{"p":"f","t":"m","f":20,"m":0.85,"lo":0.75,"hi":0.95},
{"p":"g","t":"e","f":0.5,"m":2.3,"lo":1.65,"hi":3.1},
{"p":"g","t":"e","f":0.6,"m":2.4,"lo":1.85,"hi":3.3},
{"p":"g","t":"e","f":0.65,"m":2.9,"lo":2.2,"hi":3.8},
{"p":"g","t":"e","f":0.7,"m":3.3,"lo":2.5,"hi":4.35},
{"p":"g","t":"e","f":0.8,"m":3.45,"lo":2.65,"hi":4.5},
{"p":"g","t":"e","f":0.9,"m":3.65,"lo":2.75,"hi":4.7},
{"p":"g","t":"e","f":1.0,"m":3.1,"lo":2.5,"hi":4.0},
{"p":"g","t":"e","f":1.1,"m":3.45,"lo":2.7,"hi":4.4},
{"p":"g","t":"e","f":1.2,"m":3.8,"lo":2.9,"hi":4.9},
{"p":"g","t":"e","f":1.4,"m":4.15,"lo":3.0,"hi":5.3},
{"p":"g","t":"e","f":1.6,"m":4.4,"lo":3.1,"hi":5.6},
{"p":"g","t":"e","f":1.8,"m":4.0,"lo":3.1,"hi":5.05},
{"p":"g","t":"e","f":1.9,"m":4.7,"lo":3.8,"hi":5.8},
{"p":"g","t":"e","f":2.0,"m":6.05,"lo":4.9,"hi":7.2},
{"p":"g","t":"e","f":2.1,"m":5.75,"lo":4.7,"hi":6.8},
{"p":"g","t":"e","f":2.3,"m":4.7,"lo":3.65,"hi":5.6},
{"p":"g","t":"e","f":2.5,"m":3.8,"lo":2.9,"hi":4.5},
{"p":"g","t":"e","f":2.8,"m":3.3,"lo":2.5,"hi":3.9},
{"p":"g","t":"e","f":3.0,"m":2.85,"lo":2.2,"hi":3.35},
{"p":"g","t":"e","f":3.3,"m":2.75,"lo":2.2,"hi":3.3},
{"p":"g","t":"e","f":3.6,"m":2.2,"lo":1.7,"hi":2.7},
{"p":"g","t":"e","f":4.0,"m":1.8,"lo":1.3,"hi":2.2},
{"p":"g","t":"e","f":4.5,"m":1.9,"lo":1.45,"hi":2.3},
{"p":"g","t":"e","f":5,"m":1.65,"lo":1.25,"hi":2.05},
{"p":"g","t":"e","f":6,"m":1.8,"lo":1.3,"hi":2.2},
{"p":"g","t":"e","f":7,"m":1.4,"lo":1.0,"hi":1.8},
{"p":"g","t":"e","f":8,"m":1.05,"lo":0.7,"hi":1.4},
{"p":"g","t":"e","f":9,"m":0.95,"lo":0.6,"hi":1.3},
{"p":"g","t":"e","f":10,"m":1.4,"lo":1.0,"hi":1.8},
{"p":"g","t":"e","f":11,"m":1.65,"lo":1.2,"hi":2.1},
{"p":"g","t":"e","f":12,"m":1.65,"lo":1.2,"hi":2.15},
{"p":"g","t":"e","f":14,"m":1.3,"lo":0.9,"hi":1.7},
{"p":"g","t":"e","f":16,"m":1.15,"lo":0.75,"hi":1.5},
{"p":"g","t":"e","f":18,"m":1.05,"lo":0.65,"hi":1.4},
{"p":"g","t":"e","f":20,"m":0.8,"lo":0.45,"hi":1.15},
{"p":"g","t":"m","f":0.5,"m":0.95,"lo":0.8,"hi":1.25},
{"p":"g","t":"m","f":0.6,"m":0.95,"lo":0.8,"hi":1.25},
{"p":"g","t":"m","f":0.7,"m":0.95,"lo":0.8,"hi":1.25},
{"p":"g","t":"m","f":0.8,"m":0.95,"lo":0.8,"hi":1.25},
{"p":"g","t":"m","f":0.9,"m":1.05,"lo":0.85,"hi":1.4},
{"p":"g","t":"m","f":1.0,"m":1.3,"lo":1.1,"hi":1.8},
{"p":"g","t":"m","f":1.1,"m":1.85,"lo":1.3,"hi":2.5},
{"p":"g","t":"m","f":1.2,"m":2.3,"lo":1.5,"hi":3.2},
{"p":"g","t":"m","f":1.3,"m":2.75,"lo":1.75,"hi":3.9},
{"p":"g","t":"m","f":1.4,"m":3.35,"lo":2.0,"hi":4.6},
{"p":"g","t":"m","f":1.5,"m":4.0,"lo":2.4,"hi":5.6},
{"p":"g","t":"m","f":1.6,"m":4.7,"lo":2.8,"hi":6.5},
{"p":"g","t":"m","f":1.7,"m":5.4,"lo":3.6,"hi":7.3},
{"p":"g","t":"m","f":1.8,"m":6.3,"lo":4.5,"hi":8.1},
{"p":"g","t":"m","f":1.9,"m":6.9,"lo":5.3,"hi":8.3},
{"p":"g","t":"m","f":2.0,"m":7.2,"lo":6.0,"hi":8.3},
{"p":"g","t":"m","f":2.1,"m":7.25,"lo":6.4,"hi":8.2},
{"p":"g","t":"m","f":2.2,"m":7.7,"lo":6.9,"hi":8.3},
{"p":"g","t":"m","f":2.3,"m":7.2,"lo":6.4,"hi":7.9},
{"p":"g","t":"m","f":2.4,"m":6.1,"lo":5.5,"hi":6.8},
{"p":"g","t":"m","f":2.6,"m":4.9,"lo":4.4,"hi":5.5},
{"p":"g","t":"m","f":2.8,"m":4.5,"lo":4.0,"hi":5.0},
{"p":"g","t":"m","f":3.0,"m":4.05,"lo":3.6,"hi":4.5},
{"p":"g","t":"m","f":3.3,"m":4.0,"lo":3.55,"hi":4.45},
{"p":"g","t":"m","f":3.6,"m":3.9,"lo":3.5,"hi":4.35},
{"p":"g","t":"m","f":4.0,"m":4.05,"lo":3.6,"hi":4.5},
{"p":"g","t":"m","f":4.5,"m":3.3,"lo":2.9,"hi":3.7},
{"p":"g","t":"m","f":5,"m":2.85,"lo":2.45,"hi":3.25},
{"p":"g","t":"m","f":5.5,"m":2.65,"lo":2.25,"hi":3.1},
{"p":"g","t":"m","f":6,"m":2.75,"lo":2.3,"hi":3.2},
{"p":"g","t":"m","f":7,"m":2.5,"lo":2.1,"hi":2.95},
{"p":"g","t":"m","f":8,"m":2.55,"lo":2.1,"hi":3.0},
{"p":"g","t":"m","f":9,"m":2.65,"lo":2.15,"hi":3.2},
{"p":"g","t":"m","f":10,"m":2.85,"lo":2.3,"hi":3.5},
{"p":"g","t":"m","f":12,"m":2.9,"lo":2.2,"hi":3.9},
{"p":"g","t":"m","f":13,"m":3.1,"lo":2.3,"hi":3.9},
{"p":"g","t":"m","f":14,"m":2.9,"lo":2.2,"hi":3.8},
{"p":"g","t":"m","f":16,"m":2.85,"lo":2.2,"hi":3.7},
{"p":"g","t":"m","f":18,"m":2.65,"lo":2.1,"hi":3.4},
{"p":"g","t":"m","f":20,"m":2.5,"lo":2.0,"hi":3.0}
]},
"data": {"name": "d"},
"bounds": "flush",
"spacing": 313.4,
"resolve": {"scale": {"color": "independent"}, "legend": {"color": "independent"}},
"vconcat": [
 {"bounds": "flush", "spacing": 908,
  "resolve": {"scale": {"color": "independent"}, "legend": {"color": "independent"}},
  "hconcat": [
   {"bounds": "flush", "spacing": 49,
    "resolve": {"scale": {"color": "independent"}, "legend": {"color": "independent"}},
    "hconcat": [
     {"width": 249, "height": 187, "title": {"text": "(a)"},
      "transform": [{"filter": "datum.p == 'a'"}],
      "resolve": {"axis": {"x": "independent", "y": "independent"}},
      "layer": [
       {"mark": {"type": "area", "clip": true, "fillOpacity": 0.25},
        "encoding": {
         "x": {"field": "f", "type": "quantitative", "scale": {"type": "log", "domain": [0.5, 20], "nice": false}, "axis": {"orient": "bottom", "values": [1, 2, 4, 6, 10], "format": "~g", "grid": true, "title": null}},
         "y": {"field": "lo", "type": "quantitative", "scale": {"domain": [0, 20], "nice": false}, "axis": {"orient": "left", "values": [0, 5, 10, 15, 20], "grid": true, "title": "HVFSR", "titlePadding": 3}},
         "y2": {"field": "hi"},
         "fill": {"field": "t", "type": "nominal", "scale": {"domain": ["e", "m"], "range": ["#3c5a9a", "#e8561a"]}, "legend": null}}},
       {"mark": {"type": "line", "clip": true, "strokeWidth": 2},
        "encoding": {
         "x": {"field": "f", "type": "quantitative", "axis": {"orient": "top", "values": [1, 2, 4, 6, 10], "labels": false, "grid": false, "title": "CCAST station", "titleFontSize": 17, "titlePadding": -1}},
         "y": {"field": "m", "type": "quantitative", "axis": {"orient": "right", "values": [0, 5, 10, 15, 20], "labels": false, "grid": false, "title": null}},
         "color": {"field": "t", "type": "nominal", "scale": {"domain": ["e", "m"], "range": ["#3c5a9a", "#e8561a"]}, "legend": {"title": null, "symbolType": "stroke", "labelExpr": "datum.label == 'e' ? 'CCAST earthquake data' : 'CCAST microtremor data'"}}}},
       {"mark": {"type": "point", "opacity": 0},
        "encoding": {
         "x": {"field": "f", "type": "quantitative", "axis": {"orient": "bottom", "values": [0.6, 0.7, 0.8, 0.9, 3, 5, 7, 8, 9], "labels": false, "grid": false, "tickSize": 2, "title": null}},
         "y": {"field": "m", "type": "quantitative", "axis": null}}}
      ]},
     {"width": 249, "height": 187, "title": {"text": "(b)"},
      "transform": [{"filter": "datum.p == 'b'"}],
      "resolve": {"axis": {"x": "independent", "y": "independent"}},
      "layer": [
       {"mark": {"type": "area", "clip": true, "fillOpacity": 0.25},
        "encoding": {
         "x": {"field": "f", "type": "quantitative", "scale": {"type": "log", "domain": [0.5, 20], "nice": false}, "axis": {"orient": "bottom", "values": [1, 2, 4, 6, 10], "format": "~g", "grid": true, "title": null}},
         "y": {"field": "lo", "type": "quantitative", "scale": {"domain": [0, 20], "nice": false}, "axis": {"orient": "left", "values": [0, 5, 10, 15, 20], "grid": true, "title": null}},
         "y2": {"field": "hi"},
         "fill": {"field": "t", "type": "nominal", "scale": {"domain": ["e", "m"], "range": ["#3c5a9a", "#e8561a"]}, "legend": null}}},
       {"mark": {"type": "line", "clip": true, "strokeWidth": 2},
        "encoding": {
         "x": {"field": "f", "type": "quantitative", "axis": {"orient": "top", "values": [1, 2, 4, 6, 10], "labels": false, "grid": false, "title": "MAZP station", "titleFontSize": 17, "titlePadding": -1}},
         "y": {"field": "m", "type": "quantitative", "axis": {"orient": "right", "values": [0, 5, 10, 15, 20], "labels": false, "grid": false, "title": null}},
         "color": {"field": "t", "type": "nominal", "scale": {"domain": ["e", "m"], "range": ["#3c5a9a", "#e8561a"]}, "legend": {"title": null, "symbolType": "stroke", "labelExpr": "datum.label == 'e' ? 'MAZP earthquake data' : 'MAZP microtremor data'"}}}},
       {"mark": {"type": "point", "opacity": 0},
        "encoding": {
         "x": {"field": "f", "type": "quantitative", "axis": {"orient": "bottom", "values": [0.6, 0.7, 0.8, 0.9, 3, 5, 7, 8, 9], "labels": false, "grid": false, "tickSize": 2, "title": null}},
         "y": {"field": "m", "type": "quantitative", "axis": null}}}
      ]},
     {"width": 249, "height": 187, "title": {"text": "(c)"},
      "transform": [{"filter": "datum.p == 'c'"}],
      "resolve": {"axis": {"x": "independent", "y": "independent"}},
      "layer": [
       {"mark": {"type": "area", "clip": true, "fillOpacity": 0.25},
        "encoding": {
         "x": {"field": "f", "type": "quantitative", "scale": {"type": "log", "domain": [0.5, 20], "nice": false}, "axis": {"orient": "bottom", "values": [1, 2, 4, 6, 10], "format": "~g", "grid": true, "title": null}},
         "y": {"field": "lo", "type": "quantitative", "scale": {"domain": [0, 20], "nice": false}, "axis": {"orient": "left", "values": [0, 5, 10, 15, 20], "grid": true, "title": null}},
         "y2": {"field": "hi"},
         "fill": {"field": "t", "type": "nominal", "scale": {"domain": ["e", "m"], "range": ["#3c5a9a", "#e8561a"]}, "legend": null}}},
       {"mark": {"type": "line", "clip": true, "strokeWidth": 2},
        "encoding": {
         "x": {"field": "f", "type": "quantitative", "axis": {"orient": "top", "values": [1, 2, 4, 6, 10], "labels": false, "grid": false, "title": "UTP station", "titleFontSize": 17, "titlePadding": -1}},
         "y": {"field": "m", "type": "quantitative", "axis": {"orient": "right", "values": [0, 5, 10, 15, 20], "labels": false, "grid": false, "title": null}},
         "color": {"field": "t", "type": "nominal", "scale": {"domain": ["e", "m"], "range": ["#3c5a9a", "#e8561a"]}, "legend": {"title": null, "symbolType": "stroke", "labelExpr": "datum.label == 'e' ? 'UTP earthquake data' : 'UTP microtremor data'"}}}},
       {"mark": {"type": "point", "opacity": 0},
        "encoding": {
         "x": {"field": "f", "type": "quantitative", "axis": {"orient": "bottom", "values": [0.6, 0.7, 0.8, 0.9, 3, 5, 7, 8, 9], "labels": false, "grid": false, "tickSize": 2, "title": null}},
         "y": {"field": "m", "type": "quantitative", "axis": null}}}
      ]}
    ]},
   {"width": 249, "height": 187, "title": {"text": "(d)"},
    "transform": [{"filter": "datum.p == 'd'"}],
    "resolve": {"axis": {"x": "independent", "y": "independent"}},
    "layer": [
     {"mark": {"type": "area", "clip": true, "fillOpacity": 0.25},
      "encoding": {
       "x": {"field": "f", "type": "quantitative", "scale": {"type": "log", "domain": [0.5, 20], "nice": false}, "axis": {"orient": "bottom", "values": [1, 2, 4, 6, 10], "format": "~g", "grid": true, "title": "Frequency [Hz]", "titlePadding": 4}},
       "y": {"field": "lo", "type": "quantitative", "scale": {"domain": [0, 20], "nice": false}, "axis": {"orient": "left", "values": [0, 5, 10, 15, 20], "grid": true, "title": null}},
       "y2": {"field": "hi"},
       "fill": {"field": "t", "type": "nominal", "scale": {"domain": ["e", "m"], "range": ["#3c5a9a", "#e8561a"]}, "legend": null}}},
     {"mark": {"type": "line", "clip": true, "strokeWidth": 2},
      "encoding": {
       "x": {"field": "f", "type": "quantitative", "axis": {"orient": "top", "values": [1, 2, 4, 6, 10], "labels": false, "grid": false, "title": "CUBA station", "titleFontSize": 17, "titlePadding": -1}},
       "y": {"field": "m", "type": "quantitative", "axis": {"orient": "right", "values": [0, 5, 10, 15, 20], "labels": false, "grid": false, "title": null}},
       "color": {"field": "t", "type": "nominal", "scale": {"domain": ["e", "m"], "range": ["#3c5a9a", "#e8561a"]}, "legend": {"title": null, "symbolType": "stroke", "labelExpr": "datum.label == 'e' ? 'CUBA earthquake data' : 'CUBA microtremor data'"}}}},
     {"mark": {"type": "point", "opacity": 0},
      "encoding": {
       "x": {"field": "f", "type": "quantitative", "axis": {"orient": "bottom", "values": [0.6, 0.7, 0.8, 0.9, 3, 5, 7, 8, 9], "labels": false, "grid": false, "tickSize": 2, "title": null}},
       "y": {"field": "m", "type": "quantitative", "axis": null}}}
    ]}
  ]},
 {"bounds": "flush", "spacing": 49,
  "resolve": {"scale": {"color": "independent"}, "legend": {"color": "independent"}},
  "hconcat": [
   {"width": 249, "height": 187, "title": {"text": "(e)"},
    "transform": [{"filter": "datum.p == 'e'"}],
    "resolve": {"axis": {"x": "independent", "y": "independent"}},
    "layer": [
     {"mark": {"type": "area", "clip": true, "fillOpacity": 0.25},
      "encoding": {
       "x": {"field": "f", "type": "quantitative", "scale": {"type": "log", "domain": [0.5, 20], "nice": false}, "axis": {"orient": "bottom", "values": [1, 2, 4, 6, 10], "format": "~g", "grid": true, "title": "Frequency [Hz]", "titlePadding": 4}},
       "y": {"field": "lo", "type": "quantitative", "scale": {"domain": [0, 20], "nice": false}, "axis": {"orient": "left", "values": [0, 5, 10, 15, 20], "grid": true, "title": "HVFSR", "titlePadding": 3}},
       "y2": {"field": "hi"},
       "fill": {"field": "t", "type": "nominal", "scale": {"domain": ["e", "m"], "range": ["#3c5a9a", "#e8561a"]}, "legend": null}}},
     {"mark": {"type": "line", "clip": true, "strokeWidth": 2},
      "encoding": {
       "x": {"field": "f", "type": "quantitative", "axis": {"orient": "top", "values": [1, 2, 4, 6, 10], "labels": false, "grid": false, "title": "PERC1 station", "titleFontSize": 17, "titlePadding": -1}},
       "y": {"field": "m", "type": "quantitative", "axis": {"orient": "right", "values": [0, 5, 10, 15, 20], "labels": false, "grid": false, "title": null}},
       "color": {"field": "t", "type": "nominal", "scale": {"domain": ["e", "m"], "range": ["#3c5a9a", "#e8561a"]}, "legend": {"title": null, "symbolType": "stroke", "labelExpr": "datum.label == 'e' ? 'PERC1 earthquake data' : 'PERC1 microtremor data'"}}}},
     {"mark": {"type": "point", "opacity": 0},
      "encoding": {
       "x": {"field": "f", "type": "quantitative", "axis": {"orient": "bottom", "values": [0.6, 0.7, 0.8, 0.9, 3, 5, 7, 8, 9], "labels": false, "grid": false, "tickSize": 2, "title": null}},
       "y": {"field": "m", "type": "quantitative", "axis": null}}}
    ]},
   {"width": 249, "height": 187, "title": {"text": "(f)"},
    "transform": [{"filter": "datum.p == 'f'"}],
    "resolve": {"axis": {"x": "independent", "y": "independent"}},
    "layer": [
     {"mark": {"type": "area", "clip": true, "fillOpacity": 0.25},
      "encoding": {
       "x": {"field": "f", "type": "quantitative", "scale": {"type": "log", "domain": [0.5, 20], "nice": false}, "axis": {"orient": "bottom", "values": [1, 2, 4, 6, 10], "format": "~g", "grid": true, "title": "Frequency [Hz]", "titlePadding": 4}},
       "y": {"field": "lo", "type": "quantitative", "scale": {"domain": [0, 20], "nice": false}, "axis": {"orient": "left", "values": [0, 5, 10, 15, 20], "grid": true, "title": null}},
       "y2": {"field": "hi"},
       "fill": {"field": "t", "type": "nominal", "scale": {"domain": ["e", "m"], "range": ["#3c5a9a", "#e8561a"]}, "legend": null}}},
     {"mark": {"type": "line", "clip": true, "strokeWidth": 2},
      "encoding": {
       "x": {"field": "f", "type": "quantitative", "axis": {"orient": "top", "values": [1, 2, 4, 6, 10], "labels": false, "grid": false, "title": "PERC2 station", "titleFontSize": 17, "titlePadding": -1}},
       "y": {"field": "m", "type": "quantitative", "axis": {"orient": "right", "values": [0, 5, 10, 15, 20], "labels": false, "grid": false, "title": null}},
       "color": {"field": "t", "type": "nominal", "scale": {"domain": ["e", "m"], "range": ["#3c5a9a", "#e8561a"]}, "legend": {"title": null, "symbolType": "stroke", "labelExpr": "datum.label == 'e' ? 'PERC2 earthquake data' : 'PERC2 microtremor data'"}}}},
     {"mark": {"type": "point", "opacity": 0},
      "encoding": {
       "x": {"field": "f", "type": "quantitative", "axis": {"orient": "bottom", "values": [0.6, 0.7, 0.8, 0.9, 3, 5, 7, 8, 9], "labels": false, "grid": false, "tickSize": 2, "title": null}},
       "y": {"field": "m", "type": "quantitative", "axis": null}}}
    ]},
   {"width": 249, "height": 187, "title": {"text": "(g)"},
    "transform": [{"filter": "datum.p == 'g'"}],
    "resolve": {"axis": {"x": "independent", "y": "independent"}},
    "layer": [
     {"mark": {"type": "area", "clip": true, "fillOpacity": 0.25},
      "encoding": {
       "x": {"field": "f", "type": "quantitative", "scale": {"type": "log", "domain": [0.5, 20], "nice": false}, "axis": {"orient": "bottom", "values": [1, 2, 4, 6, 10], "format": "~g", "grid": true, "title": "Frequency [Hz]", "titlePadding": 4}},
       "y": {"field": "lo", "type": "quantitative", "scale": {"domain": [0, 20], "nice": false}, "axis": {"orient": "left", "values": [0, 5, 10, 15, 20], "grid": true, "title": null}},
       "y2": {"field": "hi"},
       "fill": {"field": "t", "type": "nominal", "scale": {"domain": ["e", "m"], "range": ["#3c5a9a", "#e8561a"]}, "legend": null}}},
     {"mark": {"type": "line", "clip": true, "strokeWidth": 2},
      "encoding": {
       "x": {"field": "f", "type": "quantitative", "axis": {"orient": "top", "values": [1, 2, 4, 6, 10], "labels": false, "grid": false, "title": "PERC3 station", "titleFontSize": 17, "titlePadding": -1}},
       "y": {"field": "m", "type": "quantitative", "axis": {"orient": "right", "values": [0, 5, 10, 15, 20], "labels": false, "grid": false, "title": null}},
       "color": {"field": "t", "type": "nominal", "scale": {"domain": ["e", "m"], "range": ["#3c5a9a", "#e8561a"]}, "legend": {"title": null, "symbolType": "stroke", "labelExpr": "datum.label == 'e' ? 'PERC3 earthquake data' : 'PERC3 microtremor data'"}}}},
     {"mark": {"type": "point", "opacity": 0},
      "encoding": {
       "x": {"field": "f", "type": "quantitative", "axis": {"orient": "bottom", "values": [0.6, 0.7, 0.8, 0.9, 3, 5, 7, 8, 9], "labels": false, "grid": false, "tickSize": 2, "title": null}},
       "y": {"field": "m", "type": "quantitative", "axis": null}}}
    ]}
  ]}
]
}
